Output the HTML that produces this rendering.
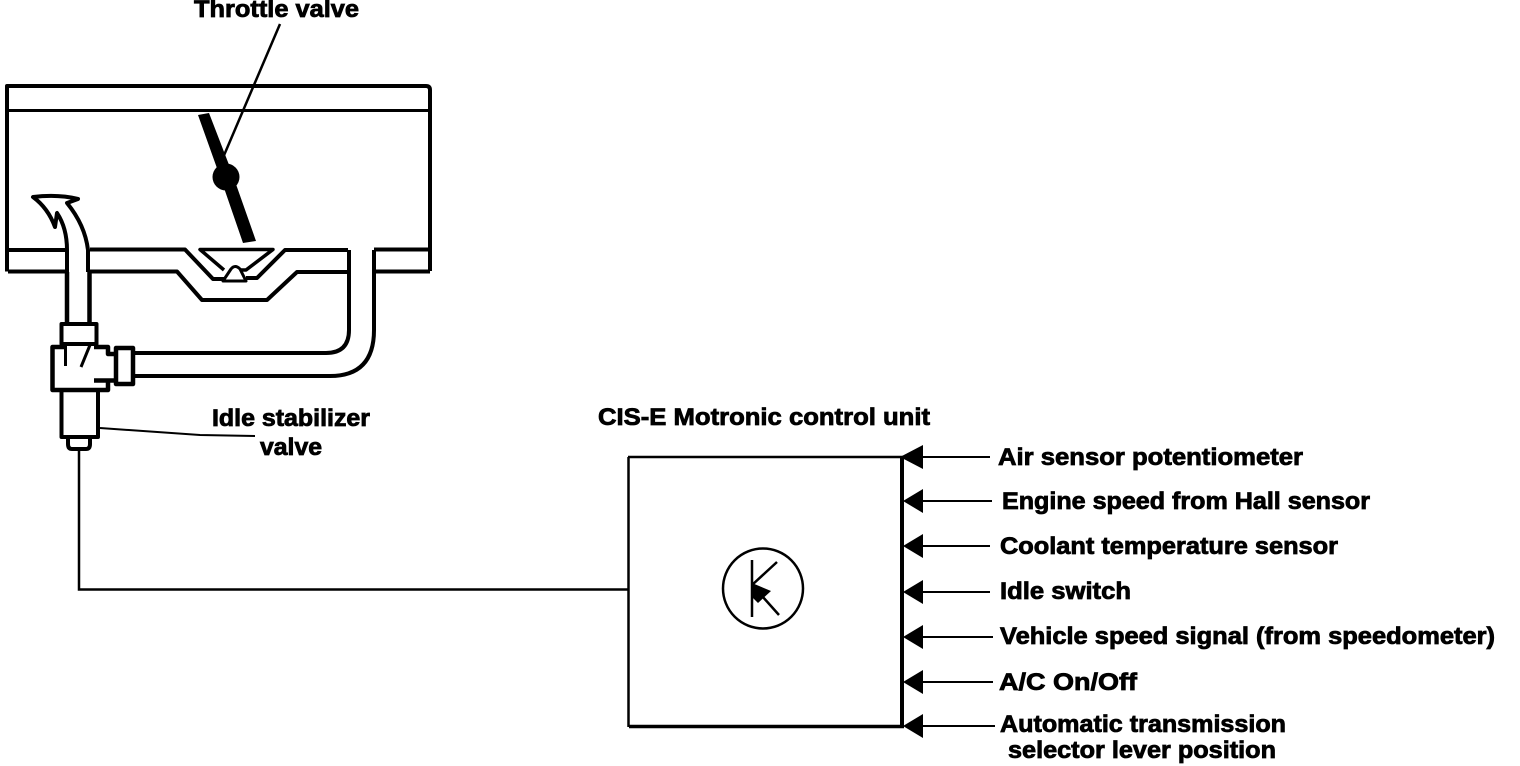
<!DOCTYPE html>
<html>
<head>
<meta charset="utf-8">
<style>
html,body{margin:0;padding:0;background:#fff;width:1520px;height:766px;overflow:hidden}
svg{display:block}
text{font-family:"Liberation Sans",sans-serif;font-weight:bold;font-size:24px;fill:#000;stroke:#000;stroke-width:.8px}
.l{fill:none;stroke:#000;stroke-width:4;stroke-linejoin:round}
.t{fill:none;stroke:#000;stroke-width:2}
</style>
</head>
<body>
<svg width="1520" height="766" viewBox="0 0 1520 766" xmlns="http://www.w3.org/2000/svg">
<!-- Throttle housing -->
<path class="l" d="M7 271.500V86H426Q430 86 430 90V271"/>
<path class="t" d="M7 110.500H430" style="stroke-width:3"/>
<path class="l" d="M8 250H66M8 271.500H68M90 249.500H185L213 279H224M89 271.500H177L202 300H267L297 272H349M348 250H285L257 278H246"/>
<path class="l" d="M349 250V330Q349 353 326 353H134M374 250V330Q374 376 330 376H134M374 249.500H430M375 271.500H430"/>
<!-- Venturi parts -->
<path class="l" d="M224 270L200 249.500H273L246 270H240" style="stroke-width:3.500"/>
<path class="l" d="M223 281L231 269Q235 264 240 269L246 281Z" style="stroke-width:3"/>
<!-- Throttle plate -->
<path d="M198 115L209 113L231 170L256 241L243 243L223 185Z" fill="#000"/>
<circle cx="226" cy="177" r="13.500" fill="#000"/>
<path class="t" d="M280 24L222 160" style="stroke-width:2.500"/>
<!-- Flow arrow -->
<path class="l" d="M67 272V250Q67 228 57 213L55 227Q48 208 33 197Q58 194 78 199L67 203Q85 225 88 250V272"/>
<!-- Valve -->
<path class="l" d="M67 272V324M89.500 272V324" style="stroke-width:4.500"/>
<rect class="l" x="61.500" y="324" width="35" height="20"/>
<path class="l" d="M65 347H52.500V390H108V381M94 347H108V354H116M116 380.500H94" style="stroke-width:4.500"/>
<rect class="l" x="116" y="348" width="17" height="36" style="stroke-width:4.500"/>
<path class="t" d="M65.500 345V366M90 345L81 367" style="stroke-width:3"/>
<path class="l" d="M61.500 390V437H98V390"/>
<path class="l" d="M68 438V444Q68 449 72 449H86Q90 449 90 444V438"/>
<path class="t" d="M100 428L200 435L255 436" style="stroke-width:2"/>
<path class="t" d="M79 449V589.500H628" style="stroke-width:2.500"/>
<!-- Control unit -->
<path class="t" d="M628 457H905" style="stroke-width:2.500"/>
<path class="t" d="M628.500 457V727" style="stroke-width:2.500"/>
<path class="t" d="M629 726.500H904" style="stroke-width:3.500"/>
<path class="t" d="M902 458V726" style="stroke-width:4"/>
<circle cx="763" cy="588.500" r="40" fill="none" stroke="#000" stroke-width="2.500"/>
<path class="t" d="M752 560V617M752 585L777 562M762 596L779 615" style="stroke-width:2.500"/>
<path d="M752 583L771 591L758 603L752 597Z" fill="#000"/>
<!-- Input arrows -->
<g fill="#000">
<path d="M900 457L923 445V469Z"/>
<path d="M903 501L923 489V513Z"/>
<path d="M903 546L923 534V558Z"/>
<path d="M903 592L923 580V604Z"/>
<path d="M903 637L923 625V649Z"/>
<path d="M903 682L923 670V694Z"/>
<path d="M903 726L923 714V738Z"/>
</g>
<path class="t" d="M923 457H990M923 501H992M923 546H990M923 592H990M923 637H993M923 682H993M923 726H995" />
<!-- Labels -->
<text x="194" y="17" textLength="165" lengthAdjust="spacingAndGlyphs">Throttle valve</text>
<text x="212" y="426" textLength="158" lengthAdjust="spacingAndGlyphs">Idle stabilizer</text>
<text x="260" y="455" textLength="62" lengthAdjust="spacingAndGlyphs">valve</text>
<text x="598" y="425" textLength="332" lengthAdjust="spacingAndGlyphs">CIS-E Motronic control unit</text>
<text x="998" y="465" textLength="305" lengthAdjust="spacingAndGlyphs">Air sensor potentiometer</text>
<text x="1002" y="509" textLength="368" lengthAdjust="spacingAndGlyphs">Engine speed from Hall sensor</text>
<text x="1000" y="554" textLength="338" lengthAdjust="spacingAndGlyphs">Coolant temperature sensor</text>
<text x="1000" y="599" textLength="131" lengthAdjust="spacingAndGlyphs">Idle switch</text>
<text x="1000" y="644" textLength="495" lengthAdjust="spacingAndGlyphs">Vehicle speed signal (from speedometer)</text>
<text x="999" y="690" textLength="138" lengthAdjust="spacingAndGlyphs">A/C On/Off</text>
<text x="1000" y="732" textLength="286" lengthAdjust="spacingAndGlyphs">Automatic transmission</text>
<text x="1008" y="758" textLength="268" lengthAdjust="spacingAndGlyphs">selector lever position</text>
</svg>
</body>
</html>
